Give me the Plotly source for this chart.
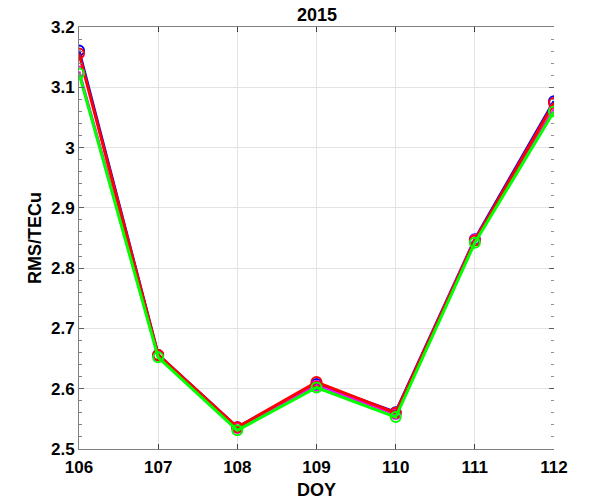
import plotly.graph_objects as go

doy = [106, 107, 108, 109, 110, 111, 112]
blue_vals = [3.161, 2.656, 2.536, 2.608, 2.561, 2.848, 3.077]
magenta_vals = [3.126, 2.655, 2.535, 2.605, 2.558, 2.847, 3.063]
red_vals = [3.156, 2.656, 2.536, 2.611, 2.560, 2.846, 3.074]
green_vals = [3.123, 2.652, 2.531, 2.602, 2.553, 2.842, 3.060]

series = [("blue", blue_vals, "#0000ff"),
          ("magenta", magenta_vals, "#ff00ff"),
          ("red", red_vals, "#ff0000"),
          ("green", green_vals, "#00ff00")]

W, H = 596, 504
L, R, T, B = 79, 42, 27, 55

fig = go.Figure()
for name, vals, col in series:
    fig.add_trace(go.Scatter(x=doy, y=vals, mode="lines+markers", name=name,
                             line=dict(color=col, width=3),
                             marker=dict(symbol="circle-open", size=10, color=col,
                                         line=dict(width=2, color=col)),
                             showlegend=False))
fig.add_trace(go.Scatter(x=[], y=[], yaxis="y2", showlegend=False, hoverinfo="skip"))

fam = "Liberation Sans, Arial, sans-serif"
font = dict(family=fam, size=17, color="black", weight="bold")
tfont = dict(family=fam, size=18, color="black", weight="bold")
fig.update_layout(
    width=W, height=H,
    margin=dict(l=L, r=R, t=T, b=B),
    paper_bgcolor="white", plot_bgcolor="white",
    xaxis=dict(range=[106, 112], dtick=1, tick0=106, showline=True, linecolor="#808080",
               linewidth=1, mirror="ticks", ticks="inside", ticklen=5, tickcolor="#404040",
               showgrid=True, gridcolor="#e3e3e3", gridwidth=1, zeroline=False,
               tickfont=font, ticklabelstandoff=3),
    yaxis=dict(range=[2.5, 3.2], dtick=0.1, tick0=2.5, showline=True, linecolor="#808080",
               linewidth=1, ticks="inside", ticklen=5, tickcolor="#606060",
               minor=dict(dtick=0.02, ticks="inside", ticklen=3, tickcolor="#808080", showgrid=False),
               showgrid=True, gridcolor="#e3e3e3", gridwidth=1, zeroline=False,
               tickfont=font, tickformat="~g"),
    yaxis2=dict(range=[2.5, 3.2], overlaying="y", side="right", showline=False,
                dtick=0.1, tick0=2.5, ticks="inside", ticklen=5, tickcolor="#606060",
                minor=dict(dtick=0.02, ticks="inside", ticklen=3, tickcolor="#909090"),
                showticklabels=False, showgrid=False, zeroline=False),
    annotations=[
        dict(text="2015", xref="paper", yref="paper", x=0.5, y=1,
             yshift=12, showarrow=False, xanchor="center", yanchor="middle", font=tfont),
        dict(text="DOY", xref="paper", yref="paper", x=0.5, y=0, yshift=-41,
             showarrow=False, xanchor="center", yanchor="middle", font=tfont),
        dict(text="RMS/TECu", xref="paper", yref="paper", x=0, y=0.5, xshift=-44,
             textangle=-90, showarrow=False, xanchor="center", yanchor="middle", font=tfont),
    ],
)
fig.write_html("out.html", config={"displayModeBar": False},
               post_script="document.body.style.margin='0';document.body.style.overflow='hidden';")
